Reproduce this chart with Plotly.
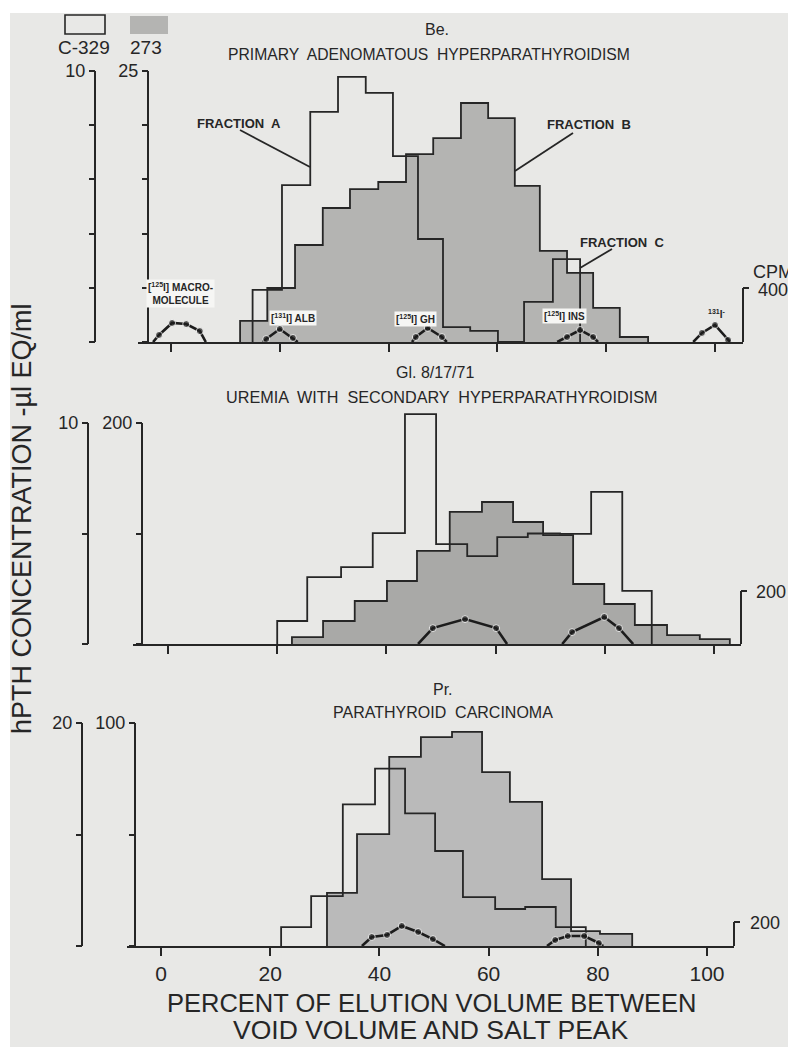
import plotly.graph_objects as go

W, H = 796, 1047          # reference picture size
OFF = 8                   # default page margin around the plot div
FW, FH = W - OFF, H - OFF  # figure size so that the page matches the picture
FONT = "Liberation Sans, Arial, sans-serif"
INK = "#262626"
BG = "#e8e8e6"

# ---------------- DATA ----------------
# x = percent of elution volume between void volume and salt peak
# Panel 1  "Be."  primary adenomatous hyperparathyroidism
be_273_edges = [12.7, 17.7, 22.8, 27.9, 32.9, 38.1, 43.2, 48.2, 53.3, 58.3, 63.2, 67.8, 72.8, 77.6, 82.5, 87.7]
be_273_vals = [1.94, 4.98, 8.95, 12.36, 14.1, 14.76, 17.34, 18.8, 22.05, 20.66, 14.4, 8.4, 6.37, 3.14, 0.46]
be_c329_edges = [15.0, 20.4, 25.6, 30.7, 35.8, 40.8, 45.4, 50.0, 55.0, 60.1, 64.9, 70.2, 75.2]
be_c329_vals = [1.92, 5.79, 8.49, 9.78, 9.19, 6.86, 3.80, 0.55, 0.41, 0.0, 1.48, 3.06]
be_macro_x = [-3.3, -2.2, 0.2, 2.8, 5.3, 6.4]
be_macro_cpm = [0, 52, 141, 133, 81, 0]
be_alb_x = [16.9, 17.5, 20.0, 22.4, 23.3]
be_alb_cpm = [0, 22, 96, 30, 0]
be_gh_x = [44.3, 45.0, 47.2, 49.8, 50.7]
be_gh_cpm = [0, 37, 104, 37, 0]
be_ins_x = [71.0, 72.8, 75.2, 77.6, 78.5]
be_ins_cpm = [0, 37, 89, 37, 0]
be_iod_x = [96.0, 97.6, 100.0, 102.4, 102.8]
be_iod_cpm = [0, 67, 126, 15, 0]

# Panel 2  "Gl. 8/17/71"  uremia with secondary hyperparathyroidism
gl_273_edges = [22.7, 28.4, 34.2, 40.1, 45.6, 51.6, 57.5, 63.2, 68.7, 74.2, 79.9, 85.5, 91.4, 97.4, 102.9]
gl_273_vals = [6.3, 20.8, 38.9, 57.0, 84.2, 119.5, 128.5, 110.4, 98.6, 54.3, 36.2, 17.2, 8.1, 4.5]
gl_c329_edges = [20.0, 25.5, 31.7, 37.5, 43.4, 49.1, 54.8, 60.3, 65.9, 71.8, 77.5, 83.2, 88.6]
gl_c329_vals = [1.04, 3.03, 3.48, 5.02, 10.4, 4.52, 3.98, 4.84, 5.0, 4.98, 6.88, 2.40]
gl_t1_x = [45.8, 48.5, 54.4, 60.1, 62.1]
gl_t1_cpm = [0, 60, 94, 60, 0]
gl_t2_x = [72.2, 74.0, 79.9, 82.6, 85.2]
gl_t2_cpm = [0, 45, 102, 60, 0]

# Panel 3  "Pr."  parathyroid carcinoma
pr_273_edges = [30.4, 35.9, 41.8, 47.6, 53.3, 58.8, 63.9, 69.8, 75.1, 80.4, 86.3]
pr_273_vals = [23.8, 50.2, 84.8, 93.7, 96.0, 78.0, 64.6, 30.0, 6.7, 5.4]
pr_c329_edges = [22.0, 27.5, 33.3, 39.2, 44.7, 50.2, 55.3, 61.2, 66.7, 72.3, 77.8]
pr_c329_vals = [1.70, 4.48, 12.7, 15.9, 11.9, 8.52, 4.39, 3.32, 3.50, 1.70]
pr_t1_x = [36.8, 38.6, 41.4, 44.1, 47.1, 49.8, 52.0]
pr_t1_cpm = [0, 75, 92, 167, 117, 58, 0]
pr_t2_x = [70.7, 72.2, 74.5, 77.5, 80.2, 81.0]
pr_t2_cpm = [0, 50, 83, 83, 25, 0]

x_tickvals = [0, 20, 40, 60, 80, 100]
c329_max = [10, 10, 20]
c329_ticks = [[0, 2, 4, 6, 8, 10], [0, 5, 10], [0, 10, 20]]
a273_max = [25, 200, 100]
a273_ticks = [[0, 5, 10, 15, 20, 25], [0, 100, 200], [0, 50, 100]]
cpm_max = [400, 200, 200]

panel_data = [
    dict(g=(be_273_edges, be_273_vals), c=(be_c329_edges, be_c329_vals),
         tr=[(be_macro_x, be_macro_cpm), (be_alb_x, be_alb_cpm), (be_gh_x, be_gh_cpm),
             (be_ins_x, be_ins_cpm), (be_iod_x, be_iod_cpm)]),
    dict(g=(gl_273_edges, gl_273_vals), c=(gl_c329_edges, gl_c329_vals),
         tr=[(gl_t1_x, gl_t1_cpm), (gl_t2_x, gl_t2_cpm)]),
    dict(g=(pr_273_edges, pr_273_vals), c=(pr_c329_edges, pr_c329_vals),
         tr=[(pr_t1_x, pr_t1_cpm), (pr_t2_x, pr_t2_cpm)]),
]

# ---------------- LAYOUT (pixel geometry in the picture) ----------------
LAY = [
    dict(base=342, top=58, xl=138, xr=743, x0=171, ppu=5.44, c_ax=95, g_ax=148, tick_px=71, cpm_ax=743, cpm_px=288, fill="#b4b4b2"),
    dict(base=644, top=405, xl=133, xr=741, x0=168, ppu=5.46, c_ax=88, g_ax=142, tick_px=423, cpm_ax=741, cpm_px=591, fill="#a9a9a7"),
    dict(base=946, top=712, xl=127, xr=734, x0=161, ppu=5.46, c_ax=82, g_ax=135, tick_px=723, cpm_ax=734, cpm_px=922, fill="#bababa"),
]


def fx(px):
    return (px - OFF) / FW


def fy(py):
    return 1 - (py - OFF) / FH


def nm(letter, n):
    return letter if n == 1 else f"{letter}{n}"


def key(letter, n):
    return f"{letter}axis" if n == 1 else f"{letter}axis{n}"


def steps(edges, vals):
    xs = [edges[0]] + list(edges[:-1]) + [edges[-1]]
    ys = [0] + list(vals) + [0]
    return xs, ys


fig = go.Figure()
layout = {}
shapes = []

# paper background of the scan
shapes.append(dict(type="rect", xref="paper", yref="paper", x0=fx(10), x1=1, y0=0, y1=fy(13),
                   fillcolor=BG, line=dict(width=0), layer="below"))

for i, (L, D) in enumerate(zip(LAY, panel_data)):
    xi = i + 1
    gi, ci, ti = 3 * i + 1, 3 * i + 2, 3 * i + 3
    span = L["base"] - L["top"]
    g_top = a273_max[i] * span / (L["base"] - L["tick_px"])
    c_top = c329_max[i] * span / (L["base"] - L["tick_px"])
    t_top = cpm_max[i] * span / (L["base"] - L["cpm_px"])
    dom = [fy(L["base"]), fy(L["top"])]

    layout[key("x", xi)] = dict(
        domain=[fx(L["xl"]), fx(L["xr"])],
        range=[(L["xl"] - L["x0"]) / L["ppu"], (L["xr"] - L["x0"]) / L["ppu"]],
        anchor=nm("y", gi), showline=True, linecolor=INK, linewidth=2,
        ticks="outside", tickvals=x_tickvals, ticklen=8, tickwidth=2, tickcolor=INK,
        showticklabels=(i == 2), tickfont=dict(family=FONT, size=21, color=INK),
        showgrid=False, zeroline=False, fixedrange=True)

    gt = a273_ticks[i]
    layout[key("y", gi)] = dict(
        domain=dom, range=[0, g_top], anchor="free", position=fx(L["g_ax"]),
        showline=False, ticks="outside", tickvals=[gt[-1]], ticktext=[str(gt[-1])],
        ticklen=6, tickwidth=2, tickcolor=INK,
        minor=dict(tickvals=gt[:-1], ticks="outside", ticklen=6, tickwidth=2, tickcolor=INK, showgrid=False),
        tickfont=dict(family=FONT, size=18, color=INK), showgrid=False, zeroline=False)

    ct = c329_ticks[i]
    layout[key("y", ci)] = dict(
        domain=dom, range=[0, c_top], anchor="free", position=fx(L["c_ax"]),
        overlaying=nm("y", gi), showline=False, ticks="outside", tickvals=[ct[-1]], ticktext=[str(ct[-1])],
        ticklen=6, tickwidth=2, tickcolor=INK,
        minor=dict(tickvals=ct[:-1], ticks="outside", ticklen=6, tickwidth=2, tickcolor=INK, showgrid=False),
        tickfont=dict(family=FONT, size=18, color=INK), showgrid=False, zeroline=False)

    layout[key("y", ti)] = dict(
        domain=dom, range=[0, t_top], anchor="free", position=fx(L["cpm_ax"]),
        overlaying=nm("y", gi), side="right", showline=False, ticks="",
        showticklabels=False, showgrid=False, zeroline=False)

    # axis lines drawn only up to the labelled top value
    shapes.append(dict(type="line", xref="paper", yref=nm("y", gi), x0=fx(L["g_ax"]), x1=fx(L["g_ax"]),
                       y0=0, y1=a273_max[i], line=dict(color=INK, width=2)))
    shapes.append(dict(type="line", xref="paper", yref=nm("y", ci), x0=fx(L["c_ax"]), x1=fx(L["c_ax"]),
                       y0=0, y1=c329_max[i], line=dict(color=INK, width=2)))
    # CPM bracket
    shapes.append(dict(type="line", xref="paper", yref=nm("y", ti), x0=fx(L["cpm_ax"]), x1=fx(L["cpm_ax"]),
                       y0=0, y1=cpm_max[i], line=dict(color=INK, width=2)))
    shapes.append(dict(type="line", xref="paper", yref=nm("y", ti), x0=fx(L["cpm_ax"]), x1=fx(L["cpm_ax"] + 6),
                       y0=cpm_max[i], y1=cpm_max[i], line=dict(color=INK, width=2)))

    gx, gy = steps(*D["g"])
    fig.add_trace(go.Scatter(x=gx, y=gy, mode="lines", xaxis=nm("x", xi), yaxis=nm("y", gi),
                             line=dict(shape="hv", color=INK, width=1.8), fill="tozeroy",
                             fillcolor=L["fill"], name="273", hoverinfo="skip"))
    cx, cy = steps(*D["c"])
    fig.add_trace(go.Scatter(x=cx, y=cy, mode="lines", xaxis=nm("x", xi), yaxis=nm("y", ci),
                             line=dict(shape="hv", color=INK, width=1.8), name="C-329", hoverinfo="skip"))
    for tx, ty in D["tr"]:
        sizes = [0] + [7] * (len(tx) - 2) + [0]
        fig.add_trace(go.Scatter(x=tx, y=ty, mode="lines+markers", xaxis=nm("x", xi), yaxis=nm("y", ti),
                                 line=dict(color="#1c1c1c", width=2.6),
                                 marker=dict(size=sizes, color="#1c1c1c"), name="CPM", hoverinfo="skip"))

# legend swatches
shapes.append(dict(type="rect", xref="paper", yref="paper", x0=fx(65), x1=fx(105), y0=fy(34), y1=fy(15),
                   fillcolor="rgba(0,0,0,0)", line=dict(color=INK, width=1.6)))
shapes.append(dict(type="rect", xref="paper", yref="paper", x0=fx(130), x1=fx(168), y0=fy(34), y1=fy(16),
                   fillcolor="#b4b4b2", line=dict(width=0)))

# fraction leader lines
for (ax0, ay0, ax1, ay1) in [(240, 130, 310, 167), (573, 133, 515, 171), (612, 249, 580, 268)]:
    shapes.append(dict(type="line", xref="paper", yref="paper", x0=fx(ax0), y0=fy(ay0), x1=fx(ax1), y1=fy(ay1),
                       line=dict(color=INK, width=1.8)))

annotations = []


def txt(t, x, y, size, bold=False, angle=0, xanchor="center", bg=None):
    d = dict(text=(f"<b>{t}</b>" if bold else t), x=fx(x), y=fy(y), xref="paper", yref="paper",
             xanchor=xanchor, yanchor="middle", showarrow=False, textangle=angle,
             font=dict(family=FONT, size=size, color=INK))
    if bg:
        d.update(bgcolor=bg, borderpad=1)
    annotations.append(d)


txt("C-329", 84, 48, 19)
txt("273", 146, 48, 19)
txt("Be.", 437, 29, 16)
txt("PRIMARY  ADENOMATOUS  HYPERPARATHYROIDISM", 429, 55, 15.7)
txt("Gl. 8/17/71", 435, 373, 16)
txt("UREMIA  WITH  SECONDARY  HYPERPARATHYROIDISM", 441, 397, 16.2)
txt("Pr.", 443, 689, 16)
txt("PARATHYROID  CARCINOMA", 443, 712, 16)
txt("PERCENT OF ELUTION VOLUME BETWEEN", 432, 1003, 25.5)
txt("VOID VOLUME AND SALT PEAK", 430, 1030, 26.5)
txt("hPTH CONCENTRATION -µl EQ/ml", 22, 519, 27, angle=-90)
txt("CPM", 773, 272, 18)
txt("400", 773, 290, 18)
txt("200", 771, 592, 18)
txt("200", 765, 923, 18)
txt("FRACTION  A", 239, 123, 13, bold=True)
txt("FRACTION  B", 589, 124, 13, bold=True)
txt("FRACTION  C", 622, 243, 13, bold=True)
txt("[<sup>125</sup>I] MACRO-<br>MOLECULE", 180, 293, 10, bold=True, bg="#f6f6f4")
txt("[<sup>131</sup>I] ALB", 293, 318, 10, bold=True, bg="#f6f6f4")
txt("[<sup>125</sup>I] GH", 415, 319, 10, bold=True, bg="#f6f6f4")
txt("[<sup>125</sup>I] INS", 564, 316, 10, bold=True, bg="#f6f6f4")
txt("<sup>131</sup>I<sup>-</sup>", 716, 314, 10, bold=True)

fig.update_layout(
    width=FW, height=FH, autosize=False,
    margin=dict(l=0, r=0, t=0, b=0, pad=0),
    paper_bgcolor="white", plot_bgcolor="rgba(0,0,0,0)",
    showlegend=False, shapes=shapes, annotations=annotations,
    font=dict(family=FONT, color=INK),
    **layout,
)

fig.write_html("out.html")
